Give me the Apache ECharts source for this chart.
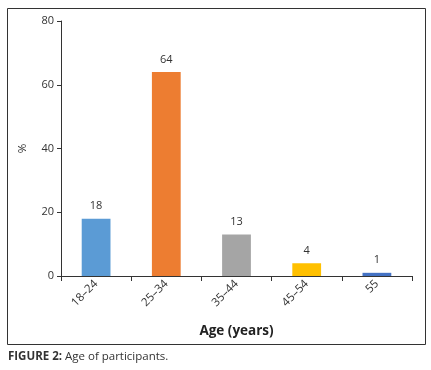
<!DOCTYPE html>
<html>
<head>
<meta charset="utf-8">
<script src="https://cdn.jsdelivr.net/npm/echarts@6/dist/echarts.min.js"></script>
<style>
  html, body { margin: 0; padding: 0; background: #fff; }
  #chart { width: 431px; height: 370px; }
</style>
</head>
<body>
<div id="chart"></div>
<script>
// 年龄组
var categories = ['18–24', '25–34', '35–44', '45–54', '55'];
// 百分比
var values = [18, 64, 13, 4, 1];
var barColors = ['#5B9BD5', '#ED7D31', '#A5A5A5', '#FFC000', '#4472C4'];
var yTicks = [0, 20, 40, 60, 80];

var font = 'Open Sans, Liberation Sans, sans-serif';
var chart = echarts.init(document.getElementById('chart'));

var data = values.map(function (v, i) {
  return { value: v, itemStyle: { color: barColors[i] } };
});

var option = {
  animation: false,
  backgroundColor: '#fff',
  grid: { left: 61, right: 19, top: 21, bottom: 94 },
  xAxis: {
    type: 'category',
    data: categories,
    name: 'Age (years)',
    nameLocation: 'middle',
    nameGap: 48,
    nameTextStyle: { fontFamily: font, fontSize: 13.5, fontWeight: 'bold', color: '#222' },
    axisLine: { lineStyle: { color: '#333', width: 1 } },
    axisTick: { show: true, alignWithLabel: false, length: 5, lineStyle: { color: '#333' } },
    axisLabel: { rotate: 45, fontFamily: font, fontSize: 11.5, color: '#333', margin: 6 }
  },
  yAxis: {
    type: 'value',
    min: yTicks[0],
    max: yTicks[yTicks.length - 1],
    interval: 20,
    name: '%',
    nameLocation: 'middle',
    nameGap: 32,
    nameRotate: 90,
    nameTextStyle: { fontFamily: font, fontSize: 11.5, color: '#333' },
    splitLine: { show: false },
    axisLine: { show: true, lineStyle: { color: '#333', width: 1 } },
    axisTick: { show: true, length: 4, lineStyle: { color: '#333' } },
    axisLabel: { fontFamily: font, fontSize: 11, color: '#333', margin: 7 }
  },
  series: [{
    type: 'bar',
    data: data,
    barWidth: '41%',
    label: {
      show: true,
      position: 'top',
      distance: 7,
      fontFamily: font,
      fontSize: 11,
      color: '#333'
    }
  }],
  graphic: [
    {
      type: 'rect',
      shape: { x: 7.5, y: 8.5, width: 418, height: 336 },
      style: { fill: null, stroke: '#333', lineWidth: 1 },
      silent: true
    },
    {
      type: 'text',
      left: 8,
      top: 351,
      style: {
        rich: {
          b: { fontFamily: font, fontSize: 11.5, fontWeight: 'bold', fill: '#333' },
          n: { fontFamily: font, fontSize: 11.5, fill: '#333' }
        },
        text: '{b|FIGURE 2:}{n| Age of participants.}'
      }
    }
  ]
};

chart.setOption(option);
</script>
</body>
</html>
